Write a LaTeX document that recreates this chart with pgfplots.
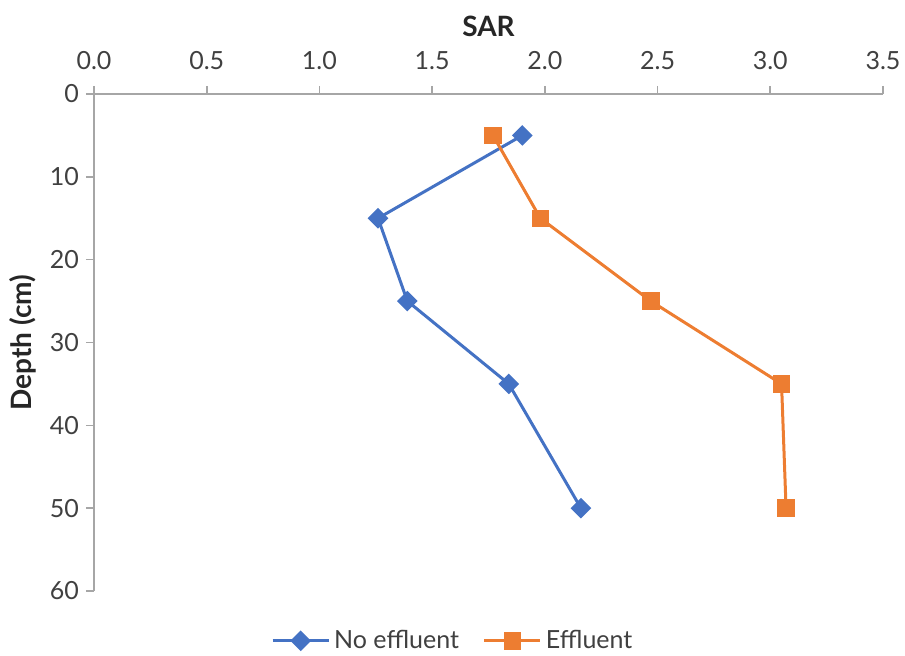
\documentclass[border=0pt]{standalone}
\usepackage{pgfplots}
\pgfplotsset{compat=1.18}
\usepackage{fontspec}
\setmainfont{Lato}
\definecolor{seriesblue}{HTML}{4472C4}
\definecolor{seriesorange}{HTML}{ED7D31}
\definecolor{axisgray}{HTML}{A6A6A6}
\definecolor{labelgray}{HTML}{404040}
\begin{document}
\begin{tikzpicture}
\path[use as bounding box] (-47pt,47pt) rectangle (405.5pt,-281pt);
\begin{axis}[
  at={(0,0)}, anchor=north west,
  scale only axis,
  width=394.5pt, height=248.5pt,
  xmin=0, xmax=3.5, ymin=0, ymax=60,
  y dir=reverse,
  axis x line=top, axis y line=left,
  axis line style={draw=axisgray, line width=0.8pt, -},
  xtick={0,0.5,...,3.5},
  ytick={0,10,...,60},
  tick align=outside,
  major tick length=4pt,
  tick style={draw=axisgray, line width=0.8pt},
  /pgf/number format/assume math mode=true,
  xticklabel style={/pgf/number format/.cd, fixed, fixed zerofill, precision=1, /tikz/.cd, yshift=4.5pt},
  ticklabel style={font=\fontsize{12.5}{14}\selectfont, text=labelgray},
  xlabel={SAR},
  ylabel={Depth (cm)},
  xlabel style={yshift=0.5pt},
  label style={font=\fontsize{14}{16}\selectfont\bfseries, text=black!85},
  legend style={at={(0.456,-0.066)}, anchor=north, draw=none, legend columns=2,
    inner sep=1pt,
    font=\fontsize{12.5}{14}\selectfont, text=labelgray,
    /tikz/every even column/.append style={column sep=10pt}},
  legend image code/.code={%
    \draw[mark repeat=2, mark phase=2] plot coordinates {(0pt,0pt) (14pt,0pt) (28pt,0pt)};},
  legend cell align=left,
  clip=false,
]
\addplot[seriesblue, line width=1.5pt, mark=square*, mark size=2.9pt,
  mark options={rotate=45, solid}] coordinates {
  (1.90,5) (1.26,15) (1.39,25) (1.84,35) (2.16,50)};
\addlegendentry{No effluent}
\addplot[seriesorange, line width=1.5pt, mark=square*, mark size=3.6pt,
  mark options={solid}] coordinates {
  (1.77,5) (1.98,15) (2.47,25) (3.05,35) (3.07,50)};
\addlegendentry{Effluent}
\end{axis}
\end{tikzpicture}
\end{document}
